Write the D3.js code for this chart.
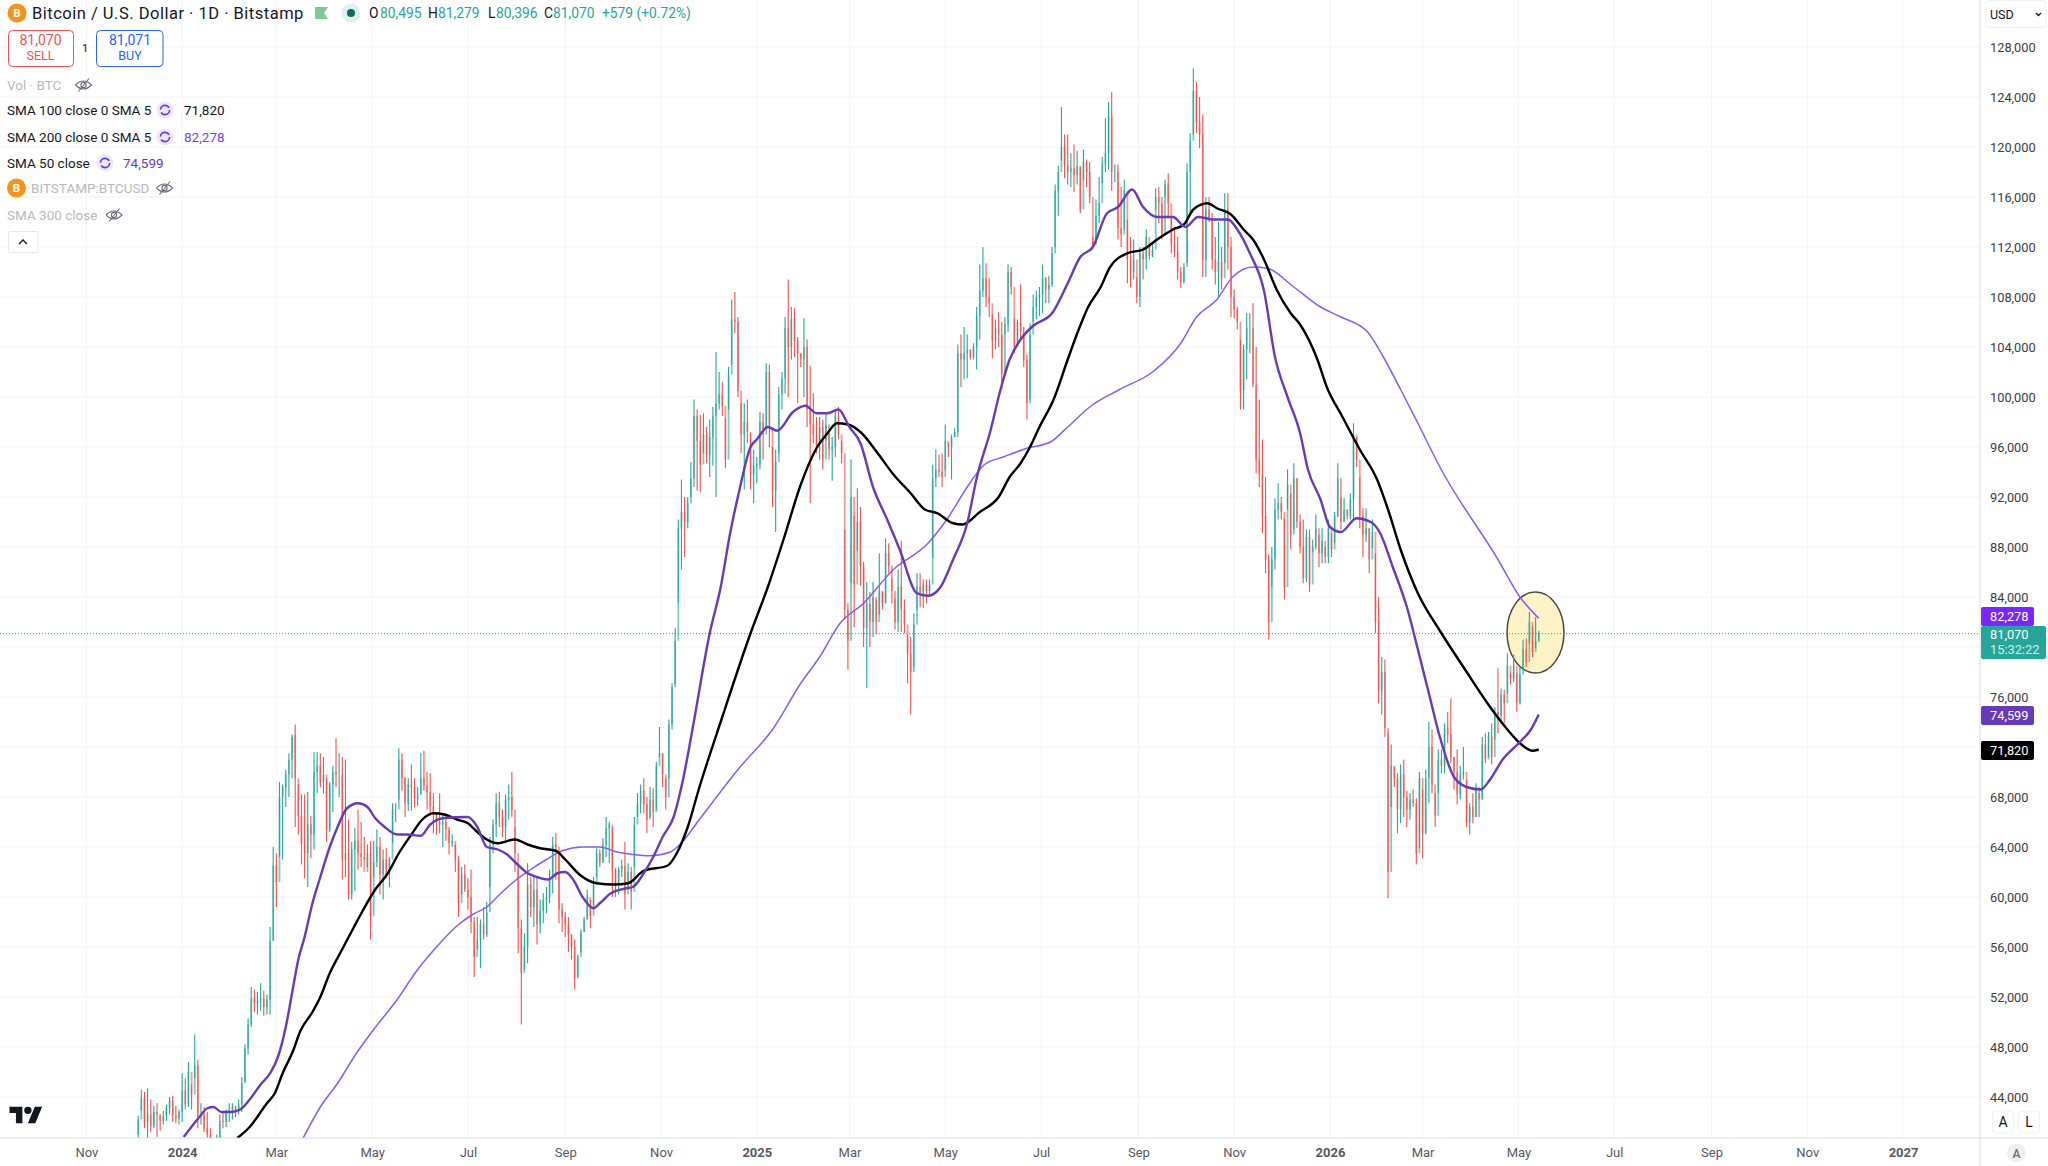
<!DOCTYPE html>
<html>
<head>
<meta charset="utf-8">
<script src="https://cdn.jsdelivr.net/npm/d3@7"></script>
<style>
  html, body { margin: 0; padding: 0; background: #fff; }
  svg { display: block; }
  text { font-family: Roboto, sans-serif; }
</style>
</head>
<body>
<div id="chart"></div>
<script>
//Prices are in thousand USD, one candle per two days, one row per 30 days
var candleHigh = [
  42.5,44.6,44.4,44.7,43.8,43.3,43.5,42.6,42.9,43.4,44.0,44.1,43.3,43.0,45.9,
  45.5,46.8,45.0,49.0,47.0,43.5,43.2,42.8,41.5,40.6,41.0,42.6,42.8,43.0,43.5,
  43.5,43.3,43.8,45.6,48.2,50.3,52.8,52.6,52.4,53.1,52.5,52.2,57.6,64.0,63.5,
  69.2,69.0,70.2,71.5,72.8,73.8,69.0,68.2,68.2,68.4,66.5,71.6,71.6,71.5,71.2,
  69.5,69.2,70.5,72.7,71.5,71.2,71.0,66.2,64.4,65.5,67.0,66.0,64.8,64.2,64.5,
  64.5,65.4,64.8,63.8,63.9,63.2,67.5,67.5,71.9,71.5,69.6,69.5,70.6,69.5,68.8,
  71.5,71.7,70.0,69.9,68.3,66.7,68.3,66.7,66.7,65.6,65.0,64.2,63.3,62.4,62.6,
  61.5,62.2,58.4,58.4,58.2,59.2,59.6,64.8,66.2,68.3,68.4,67.0,68.2,69.0,70.0,
  65.6,62.7,58.2,57.1,62.7,61.6,61.6,61.6,59.8,60.3,60.8,62.2,64.8,65.1,63.5,
  59.5,58.8,58.4,57.0,56.6,55.4,57.4,58.4,60.6,59.8,61.6,63.9,63.8,64.7,66.4,
  66.0,65.6,62.3,62.4,63.0,64.4,62.7,62.4,66.4,68.3,69.0,69.5,68.0,68.8,68.7,
  70.8,73.6,71.5,69.5,74.2,77.1,81.5,90.2,93.4,92.0,92.0,94.8,99.8,99.0,98.6,
  98.7,97.6,98.2,99.2,103.6,102.0,101.2,98.3,102.4,107.8,108.4,106.4,99.5,99.5,99.8,
  97.1,95.8,95.2,98.8,98.7,102.7,102.6,96.0,95.8,100.8,102.0,106.4,109.4,107.2,107.1,
  104.8,103.5,106.3,104.6,102.5,100.3,98.4,98.4,98.2,98.7,97.1,96.8,99.0,99.2,96.5,
  89.4,83.5,95.0,90.5,92.7,91.2,86.8,85.2,84.4,85.2,83.8,87.5,84.4,88.7,88.3,
  85.5,83.9,86.2,88.5,83.8,81.0,80.8,82.7,85.9,85.9,85.4,85.4,85.4,94.6,95.8,
  95.4,95.5,97.8,96.3,97.0,97.5,104.2,105.0,105.6,105.0,103.8,104.3,107.2,110.6,112.0,
  110.7,109.5,106.6,106.2,106.8,106.0,106.4,110.6,110.4,106.3,106.2,109.0,105.6,103.4,105.9,
  108.2,108.5,108.8,110.6,109.6,109.7,112.0,117.0,118.5,123.2,121.0,121.0,119.5,120.2,119.7,
  118.4,119.8,119.0,118.8,112.8,115.8,117.6,119.2,122.3,123.6,124.4,118.6,118.6,116.8,117.4,
  114.2,112.8,112.6,109.6,112.0,112.0,113.4,112.0,112.3,116.7,116.8,116.0,117.4,117.9,114.4,
  113.6,112.8,110.4,110.7,118.7,121.1,126.3,125.2,124.0,122.6,116.0,116.0,114.7,112.8,114.0,
  112.0,116.3,116.3,112.8,108.6,107.2,104.6,104.2,106.7,106.7,107.5,104.0,99.8,96.6,93.6,
  87.4,88.0,91.9,93.1,92.0,90.3,94.2,92.3,94.7,93.5,90.6,90.2,89.4,89.4,88.6,
  90.6,89.0,89.5,88.0,90.2,89.1,90.8,94.7,92.0,91.9,91.0,92.3,97.9,96.8,93.6,
  91.1,91.1,89.5,90.2,87.5,84.0,79.2,79.0,73.1,72.2,70.4,69.9,70.6,71.0,68.5,
  68.3,68.6,67.9,70.0,68.6,70.2,74.0,73.4,68.3,71.8,71.8,73.9,74.8,75.9,71.2,
  71.8,70.5,72.0,69.4,67.5,68.3,69.1,68.3,72.8,73.1,73.2,73.9,75.2,78.3,76.7,
  76.6,79.5,77.9,79.4,77.9,78.4,80.6,80.7,82.8,81.6,82.4,81.3
];
var candleLow = [
  40.6,42.9,41.5,40.4,41.2,41.5,40.8,41.3,41.8,42.1,42.6,42.0,41.9,41.8,42.0,
  43.0,43.2,43.0,45.5,41.5,41.8,41.2,40.5,39.5,38.6,39.6,39.8,41.5,41.6,42.0,
  42.2,42.4,42.6,42.8,45.2,47.4,49.6,50.8,50.6,50.9,50.5,50.6,50.6,56.5,59.2,
  63.2,63.0,67.2,68.0,69.5,65.6,65.0,62.6,61.5,60.8,63.1,63.8,68.3,68.8,68.3,
  64.4,65.2,66.8,68.8,68.0,61.4,61.6,59.8,59.8,60.5,62.2,62.4,63.0,62.4,56.6,
  61.6,62.4,60.2,59.8,61.5,60.8,64.3,66.0,67.8,68.5,66.4,66.9,66.9,67.2,67.3,
  68.2,68.5,67.0,66.5,65.1,65.0,65.1,64.0,64.5,63.4,64.0,62.0,58.4,60.2,60.4,
  59.0,57.1,53.6,55.8,54.3,56.6,56.8,60.8,63.5,64.8,65.6,64.8,64.3,66.2,66.4,
  62.0,55.5,49.8,54.2,54.7,58.4,57.6,56.2,57.1,57.9,58.7,59.5,60.3,61.4,57.9,
  57.2,56.8,55.6,55.0,52.6,53.6,55.6,57.2,58.2,57.5,59.2,61.6,62.4,62.7,63.2,
  62.7,60.0,60.0,60.2,61.6,59.0,60.6,59.0,62.4,66.4,66.7,66.7,65.1,66.4,65.6,
  67.0,71.2,68.8,67.0,69.5,73.4,77.0,83.5,86.2,87.2,89.5,92.0,92.8,92.5,92.4,
  95.5,94.7,93.6,94.5,92.0,99.0,98.5,94.3,99.0,102.6,105.1,100.0,95.5,92.6,96.3,
  92.6,91.5,93.1,94.2,95.0,97.6,96.0,91.2,89.2,95.5,99.0,100.3,100.0,103.0,103.2,
  99.5,102.4,100.0,97.6,91.5,96.3,95.5,95.0,94.2,96.5,95.0,93.3,95.2,96.6,94.7,
  82.2,78.2,85.1,81.6,87.7,84.9,80.0,76.7,80.0,80.8,81.0,82.6,83.0,83.5,85.9,
  83.5,81.4,81.2,81.2,81.1,77.1,74.6,78.4,83.0,83.2,83.1,83.5,84.0,87.1,92.8,
  93.6,92.8,94.2,95.2,93.4,96.8,96.8,100.8,101.4,101.5,103.0,103.0,102.2,104.6,108.0,
  107.2,106.4,103.1,103.8,104.0,100.6,105.0,105.2,108.2,103.5,104.3,104.6,102.4,98.2,99.8,
  106.0,106.2,106.5,106.7,107.5,107.5,108.8,112.0,114.5,118.9,117.5,117.0,116.8,116.4,117.0,
  114.7,117.4,116.8,115.5,111.8,112.3,113.9,117.1,118.0,118.2,116.5,117.2,112.6,112.0,113.4,
  109.1,108.8,109.4,107.5,107.2,109.4,110.2,111.0,111.2,115.0,113.9,112.6,116.0,114.4,111.5,
  111.2,109.4,108.7,109.1,110.7,114.7,121.0,121.1,119.9,109.6,109.6,114.0,110.2,109.0,108.0,
  108.6,110.7,110.2,106.4,106.3,105.4,99.0,99.0,101.4,103.5,100.8,93.9,92.8,89.1,85.9,
  80.6,84.8,86.2,90.2,90.2,83.8,91.0,87.8,89.4,89.5,87.5,85.1,85.2,84.4,87.6,
  87.8,86.4,86.7,86.7,86.7,87.2,88.3,90.4,89.4,90.0,90.2,90.2,90.2,94.4,89.5,
  87.2,88.4,85.9,87.9,81.1,75.5,74.6,72.8,59.9,67.2,68.8,65.1,65.9,66.4,65.6,
  66.2,67.2,62.6,63.9,63.1,65.1,67.5,68.3,65.6,68.3,69.9,69.9,72.3,70.7,68.6,
  67.4,67.8,69.4,65.6,65.0,65.9,66.4,66.4,67.8,70.7,71.2,70.6,72.6,73.1,73.9,
  73.9,76.3,77.0,77.2,74.8,75.4,78.2,78.4,80.3,79.2,79.9,80.4
];
var candleClose = [
  42.2,43.9,42.0,42.6,41.7,42.8,42.6,42.1,42.5,43.1,43.7,42.5,42.3,42.8,44.5,
  43.4,46.0,44.2,46.5,42.5,42.6,41.5,41.0,39.8,39.9,40.5,42.1,42.0,42.9,43.0,
  43.2,42.8,43.4,45.1,47.9,49.8,51.9,51.5,51.7,51.9,51.2,51.8,56.5,62.5,61.2,
  68.0,68.8,69.8,71.0,73.0,69.5,66.5,64.2,63.5,65.8,65.0,70.0,70.5,69.2,69.8,
  65.4,69.0,70.0,69.8,69.8,63.0,63.5,60.2,63.8,64.5,63.5,63.2,62.0,63.5,58.5,
  62.8,64.0,61.8,63.0,61.8,63.0,67.0,67.0,71.0,69.5,67.5,69.0,68.8,67.9,68.2,
  69.5,68.9,68.4,67.2,66.8,66.0,65.8,66.0,65.4,64.3,64.5,63.0,59.5,61.8,60.6,
  60.0,58.0,55.2,56.6,57.8,57.0,58.8,64.2,65.8,67.5,66.4,65.6,67.8,68.0,67.0,
  63.5,57.5,53.9,56.0,61.0,59.2,60.6,57.8,58.9,59.8,60.0,61.6,64.2,64.0,59.0,
  58.4,57.8,57.0,56.0,53.5,55.2,57.2,58.2,60.0,58.5,61.0,63.5,62.8,64.2,65.5,
  65.8,62.2,61.0,62.2,62.5,60.2,62.0,60.4,65.8,67.5,68.5,67.4,66.2,67.8,66.8,
  70.5,71.5,69.8,68.0,73.8,76.8,80.5,89.5,90.8,90.0,91.5,93.5,98.5,96.5,94.6,
  97.0,95.4,96.8,98.5,99.5,100.2,99.3,95.0,101.8,106.2,106.0,100.5,97.0,98.0,97.2,
  93.8,94.5,94.6,98.0,97.0,102.0,97.5,92.5,94.8,100.2,101.5,105.5,104.0,106.2,104.5,
  103.5,103.0,104.0,99.0,97.8,97.0,96.2,97.6,95.0,97.8,95.8,96.0,98.5,97.0,95.5,
  83.0,80.5,92.0,85.0,90.0,86.5,81.5,83.5,82.0,84.0,82.0,84.5,83.5,87.5,86.5,
  84.5,82.0,84.8,83.0,81.8,79.5,78.0,81.8,84.8,84.2,85.0,84.5,85.0,93.5,94.2,
  94.0,93.6,96.5,96.0,96.8,97.2,103.5,103.0,103.5,103.8,103.2,104.0,106.5,108.5,109.5,
  108.0,107.5,104.5,105.5,105.0,101.8,105.8,110.0,108.8,104.0,106.0,105.2,103.0,99.5,105.0,
  107.2,108.0,108.2,109.5,108.6,109.0,111.5,116.5,118.0,120.0,118.5,118.0,118.3,117.8,118.5,
  115.0,118.8,118.0,116.0,112.2,114.5,115.5,118.6,119.5,122.5,118.0,118.0,113.5,113.0,116.5,
  111.0,110.0,111.0,108.0,111.5,111.0,112.8,111.3,111.8,116.0,115.5,113.0,117.0,115.5,112.2,
  111.6,110.0,109.2,110.4,118.0,120.5,124.5,122.0,121.0,111.0,115.0,114.2,111.0,110.0,110.8,
  109.5,115.0,112.0,108.0,107.0,106.0,100.5,103.8,105.5,105.5,101.0,95.0,93.8,90.5,87.0,
  82.0,87.0,91.0,91.5,90.8,84.8,93.0,89.0,93.5,90.0,88.0,85.5,88.8,85.0,88.0,
  89.5,87.5,88.5,87.2,89.5,87.8,90.5,93.5,90.0,91.0,90.5,91.8,97.0,95.0,90.5,
  89.0,89.5,87.0,89.2,82.0,76.5,78.0,73.5,62.0,70.5,69.5,67.0,69.8,68.0,67.0,
  67.8,67.5,63.5,69.5,65.0,69.5,72.0,69.0,66.5,71.0,70.5,73.5,73.0,71.2,70.0,
  68.2,69.8,70.0,66.0,67.2,66.4,68.8,67.8,72.2,71.0,72.9,71.2,74.8,74.5,76.2,
  75.5,78.5,77.5,78.5,75.5,77.8,79.8,78.8,82.0,79.6,80.5,81.07
];

//Moving averages, days counted from 1 Jan 2024
var sma50Days = [1,11,16,20,25,31,37,43,50,56,61,66,70,74,78,83,88,94,99,105,112,118,123,129,137,143,152,158,166,182,188,194,201,207,212,220,226,233,239,244,249,255,262,266,273,283,287,294,300,306,313,319,325,336,343,349,355,362,366,373,379,389,397,404,411,418,425,432,440,449,457,468,475,483,491,500,506,515,521,527,534,542,554,564,572,580,589,596,605,612,621,631,639,647,657,666,672,680,689,696,704,712,717,725,731,738,748,757,763,771,780,787,794,801,810,818,827,833,841,852,859,864];
var sma50Values = [40.8,42.4,43.1,43.2,42.8,42.8,43.0,43.8,45.0,45.9,47.2,49.6,52.3,55.0,56.8,59.5,61.6,64.0,65.6,67.1,67.5,67.2,66.3,65.6,65.0,65.0,64.9,65.8,66.3,66.4,65.6,64.0,63.8,63.4,62.8,61.9,61.6,61.4,61.9,62.0,61.4,60.0,59.1,59.5,60.3,60.7,60.8,61.9,63.2,64.8,66.4,69.4,73.4,81.1,84.8,89.1,92.6,96.0,96.6,97.6,97.3,98.8,99.3,98.7,98.7,99.0,97.6,96.3,92.8,90.2,87.8,84.3,84.1,84.8,87.0,89.9,93.5,97.4,100.5,103.0,104.6,105.7,106.7,109.1,111.2,112.0,114.7,115.2,116.6,115.2,114.4,114.4,113.6,114.4,114.2,114.2,113.4,111.5,108.5,103.2,100.0,97.1,94.2,91.8,89.6,89.2,90.3,90.0,89.1,86.4,83.2,79.8,76.3,72.8,69.6,68.8,68.6,69.4,71.0,72.4,73.4,74.6];

var sma100Days = [35,43,54,59,64,71,75,83,88,94,101,109,115,123,131,138,146,153,160,167,175,182,188,194,201,212,220,228,238,244,253,264,275,284,294,309,315,322,329,344,362,373,383,394,404,411,417,424,432,443,453,464,473,481,491,497,508,520,527,534,540,546,555,564,571,577,585,591,602,612,621,631,638,644,653,659,668,676,682,689,697,706,712,723,729,739,750,761,768,776,787,801,816,833,844,852,860,864];
var sma100Values = [40.7,41.6,43.5,44.3,45.9,47.8,49.2,50.8,52.0,53.9,55.6,57.5,58.9,60.6,61.9,63.5,65.0,66.2,66.7,66.6,66.2,65.9,65.2,64.6,64.3,64.6,64.2,63.9,63.7,63.0,61.8,61.1,61.0,61.1,62.1,62.5,63.5,65.6,68.6,74.4,81.1,84.8,88.6,93.0,95.9,97.1,97.9,97.8,97.2,95.5,93.8,92.3,91.0,90.7,89.9,89.8,90.8,92.0,93.6,94.7,96.0,97.6,99.8,103.0,105.4,107.2,108.8,110.4,111.5,111.8,112.6,113.4,113.8,115.0,115.5,115.1,114.6,113.4,112.6,111.0,108.6,106.7,105.8,103.0,100.8,98.4,95.8,93.4,91.0,87.8,84.3,81.3,78.4,75.2,73.4,72.3,71.7,71.8];

var sma200Days = [77,88,99,111,122,137,150,162,176,185,194,203,213,222,232,242,255,266,277,287,298,311,317,330,354,376,394,406,419,434,453,475,487,500,511,523,538,553,564,578,597,618,636,646,659,669,682,691,708,725,738,755,765,776,787,801,838,852,864];
var sma200Values = [40.7,43.2,45.1,47.5,49.4,51.8,54.2,56.0,57.8,58.6,59.2,60.3,61.4,62.2,63.0,63.7,64.0,64.0,63.6,63.4,63.3,63.6,64.2,66.3,70.2,73.4,77.1,79.2,81.9,83.5,86.2,88.3,90.2,92.8,94.6,95.2,95.9,96.4,97.6,99.2,100.6,102.0,104.3,106.4,107.8,109.6,110.4,110.3,108.8,107.2,106.4,105.2,103.2,100.6,97.9,94.4,87.0,84.0,82.3];

var priceTicks = [44,48,52,56,60,64,68,72,76,80,84,88,92,96,100,104,108,112,116,120,124,128];
var hiddenTickLabels = [72,80]; //covered by the last value labels
var lastClose = 81.07;

var w = 2048, h = 1166;
var paneW = 1980, paneH = 1138;
var upColor = "#26a69a", downColor = "#ef5350";
var fmtPrice = function(d){ return d3.format(",")(Math.round(d*1000)); };

var svg = d3.select("#chart").append("svg").attr("width", w).attr("height", h);

var x = d3.scaleUtc()
  .domain([new Date(Date.UTC(2023,8,7)), new Date(Date.UTC(2027,1,19))])
  .range([0, paneW]);
var y = d3.scaleLinear().domain([131.76, 40.72]).range([0, paneH]);

var jan2024 = new Date(Date.UTC(2024,0,1));
var dayX = function(d){ return x(d3.utcDay.offset(jan2024, d)); };

//Two-monthly ticks on the time axis
var timeTicks = d3.utcMonth.range(new Date(Date.UTC(2023,10,1)), new Date(Date.UTC(2027,1,1)), 2);

//Grid
svg.append("g").selectAll("line").data(priceTicks).enter().append("line")
  .attr("x1", 0).attr("x2", paneW)
  .attr("y1", function(d){ return y(d); }).attr("y2", function(d){ return y(d); })
  .attr("stroke", "#f2f3f5");
svg.append("g").selectAll("line").data(timeTicks).enter().append("line")
  .attr("x1", function(d){ return x(d); }).attr("x2", function(d){ return x(d); })
  .attr("y1", 0).attr("y2", paneH)
  .attr("stroke", "#f2f3f5");

var clip = svg.append("defs").append("clipPath").attr("id", "pane");
clip.append("rect").attr("width", paneW).attr("height", paneH);
var pane = svg.append("g").attr("clip-path", "url(#pane)");

//Circle marking the latest candles
pane.append("ellipse")
  .attr("cx", 1535.5).attr("cy", 632.5).attr("rx", 28.5).attr("ry", 40.5)
  .attr("fill", "#fdf3c6").attr("stroke", "#4a4a3a").attr("stroke-width", 1.5);

//Last price line
pane.append("line")
  .attr("x1", 0).attr("x2", paneW)
  .attr("y1", y(lastClose)).attr("y2", y(lastClose))
  .attr("stroke", upColor).attr("stroke-dasharray", "1 2");

//Candles
var candles = candleClose.map(function(c, i){
  return {
    day: -28 + i*2,
    high: candleHigh[i],
    low: candleLow[i],
    open: i == 0 ? 41.0 : candleClose[i-1],
    close: c
  };
});
var candleG = pane.selectAll("g.candle").data(candles).enter().append("g").attr("class", "candle");
candleG.append("line")
  .attr("x1", function(d){ return dayX(d.day); })
  .attr("x2", function(d){ return dayX(d.day); })
  .attr("y1", function(d){ return y(d.high); })
  .attr("y2", function(d){ return y(d.low); })
  .attr("stroke-width", 1.1)
  .attr("stroke", function(d){ return d.close >= d.open ? upColor : downColor; });
candleG.append("rect")
  .attr("x", function(d){ return dayX(d.day) - 0.9; })
  .attr("width", 1.8)
  .attr("y", function(d){ return y(Math.max(d.open, d.close)); })
  .attr("height", function(d){ return Math.abs(y(d.open) - y(d.close)); })
  .attr("opacity", 0.6)
  .attr("fill", function(d){ return d.close >= d.open ? upColor : downColor; });

//Moving averages
var line = d3.line()
  .x(function(d){ return dayX(d[0]); })
  .y(function(d){ return y(d[1]); })
  .curve(d3.curveMonotoneX);
var drawSma = function(days, values, color, width){
  pane.append("path")
    .datum(days.map(function(d, i){ return [d, values[i]]; }))
    .attr("fill", "none")
    .attr("stroke", color)
    .attr("stroke-width", width)
    .attr("stroke-linejoin", "round")
    .attr("d", line);
};
drawSma(sma200Days, sma200Values, "#8a5cf0", 1.5);
drawSma(sma100Days, sma100Values, "#000000", 2.4);
drawSma(sma50Days, sma50Values, "#673ab7", 2.4);

//Price axis
var yAxis = d3.axisRight(y)
  .tickValues(priceTicks.filter(function(d){ return hiddenTickLabels.indexOf(d) < 0; }))
  .tickSize(0).tickPadding(10).tickFormat(fmtPrice);
var yG = svg.append("g").attr("transform", "translate(" + paneW + ",0)").call(yAxis);
yG.select(".domain").remove();
yG.selectAll("text").attr("font-size", 12.8).attr("fill", "#3a3d45").style("font-family", "Roboto, sans-serif");

//Time axis
var xAxis = d3.axisBottom(x).tickValues(timeTicks).tickSize(0).tickPadding(10)
  .tickFormat(function(d){ return d.getUTCMonth() == 0 ? d.getUTCFullYear() : d3.utcFormat("%b")(d); });
var xG = svg.append("g").attr("transform", "translate(0," + paneH + ")").call(xAxis);
xG.select(".domain").remove();
xG.selectAll("text")
  .attr("font-size", 13).attr("fill", "#555962").style("font-family", "Roboto, sans-serif")
  .attr("font-weight", function(d){ return d.getUTCMonth() == 0 ? 700 : 400; });

svg.append("line").attr("x1", paneW).attr("x2", paneW).attr("y1", 0).attr("y2", h).attr("stroke", "#dcdde0");
svg.append("line").attr("x1", 0).attr("x2", w).attr("y1", paneH).attr("y2", paneH).attr("stroke", "#dcdde0");

//Price labels on the axis
var priceLabels = [
  {value: 82.278, top: 607, bottom: 626, right: 2034, fill: "#7a26ff"},
  {value: 74.599, top: 706, bottom: 725, right: 2034, fill: "#673ab7"},
  {value: 71.82, top: 741, bottom: 760, right: 2034, fill: "#000000"}
];
priceLabels.forEach(function(d){
  svg.append("rect").attr("x", 1981).attr("y", d.top).attr("width", d.right - 1981).attr("height", d.bottom - d.top)
    .attr("rx", 2).attr("fill", d.fill);
  svg.append("text").attr("x", 1990).attr("y", d.top + 14).attr("font-size", 12.8).attr("fill", "#fff").text(fmtPrice(d.value));
});
svg.append("rect").attr("x", 1981).attr("y", 626).attr("width", 65).attr("height", 33).attr("rx", 2).attr("fill", upColor);
svg.append("text").attr("x", 1990).attr("y", 639).attr("font-size", 12.8).attr("fill", "#fff").text(fmtPrice(lastClose));
svg.append("text").attr("x", 1990).attr("y", 654).attr("font-size", 12.8).attr("fill", "#d6f0ec").text("15:32:22");

//Top right currency box and bottom right buttons
svg.append("rect").attr("x", 1986).attr("y", 0.5).attr("width", 60).attr("height", 27).attr("rx", 4).attr("fill", "#fff").attr("stroke", "#f0f0f2");
svg.append("text").attr("x", 1990).attr("y", 19).attr("font-size", 12.5).attr("fill", "#131722").text("USD");
svg.append("path").attr("d", "M2036 13l2.5 2.5 2.5-2.5").attr("fill", "none").attr("stroke", "#131722").attr("stroke-width", 1.3);
[["A", 2003], ["L", 2029]].forEach(function(b){
  svg.append("rect").attr("x", b[1] - 10.5).attr("y", 1111).attr("width", 21).attr("height", 22).attr("rx", 4).attr("fill", "#fff").attr("stroke", "#f0f0f2");
  svg.append("text").attr("x", b[1]).attr("y", 1127).attr("text-anchor", "middle").attr("font-size", 14).attr("fill", "#131722").text(b[0]);
});
svg.append("circle").attr("cx", 2016.5).attr("cy", 1153).attr("r", 9.5).attr("fill", "#eeeff1");
svg.append("text").attr("x", 2016.5).attr("y", 1157.5).attr("text-anchor", "middle").attr("font-size", 12).attr("font-weight", 500).attr("fill", "#6a6d78").text("A");

//TradingView mark
var logo = svg.append("g").attr("transform", "translate(9.5,1103) scale(0.92)").attr("fill", "#131722");
logo.append("path").attr("d", "M14 22H7V11H0V4h14v18zM28 22h-8l7.5-18h8L28 22z");
logo.append("circle").attr("cx", 20).attr("cy", 8).attr("r", 4);

//Legend
var coin = function(cx, cy){
  svg.append("circle").attr("cx", cx).attr("cy", cy).attr("r", 9.5).attr("fill", "#f7931a");
  svg.append("text").attr("x", cx).attr("y", cy + 4).attr("text-anchor", "middle").attr("font-size", 11.5).attr("font-weight", 700).attr("fill", "#fff").text("B");
};
var eyeOff = function(cx, cy){
  var g = svg.append("g").attr("fill", "none").attr("stroke", "#6a6d78").attr("stroke-width", 1.1);
  g.append("path").attr("d", "M" + (cx-8) + " " + cy + "Q" + cx + " " + (cy-8) + " " + (cx+8) + " " + cy + "Q" + cx + " " + (cy+8) + " " + (cx-8) + " " + cy);
  g.append("circle").attr("cx", cx).attr("cy", cy).attr("r", 2.6);
  g.append("line").attr("x1", cx-5).attr("y1", cy+6.5).attr("x2", cx+5.5).attr("y2", cy-6.5);
};
var syncIcon = function(cx, cy){
  svg.append("circle").attr("cx", cx).attr("cy", cy).attr("r", 8.5).attr("fill", "#ede7f6");
  svg.append("circle").attr("cx", cx).attr("cy", cy).attr("r", 4.6).attr("fill", "none")
    .attr("stroke", "#6a3de8").attr("stroke-width", 1.7).attr("stroke-dasharray", "11.5 3");
};
var label = function(tx, ty, str, size, color){
  return svg.append("text").attr("x", tx).attr("y", ty).attr("font-size", size).attr("fill", color).text(str);
};

coin(17, 13);
label(32, 18.5, "Bitcoin / U.S. Dollar · 1D · Bitstamp", 16.5, "#131722").attr("letter-spacing", 0.5);
svg.append("path").attr("d", "M315 7h13l-4 6 4 6h-13z").attr("fill", "#81c995");
svg.append("circle").attr("cx", 351).attr("cy", 13).attr("r", 9.5).attr("fill", "#dff1ee");
svg.append("circle").attr("cx", 351).attr("cy", 13).attr("r", 4).attr("fill", "#0b6b5d");

[["O", 369, "80,495", 380], ["H", 428, "81,279", 438], ["L", 488, "80,396", 496], ["C", 544, "81,070", 553]].forEach(function(o){
  label(o[1], 18, o[0], 13.8, "#131722");
  label(o[3], 18, o[2], 13.8, upColor);
});
label(602, 18, "+579 (+0.72%)", 13.8, upColor);

svg.append("rect").attr("x", 8.5).attr("y", 30.5).attr("width", 65).attr("height", 36).attr("rx", 4).attr("fill", "#fff").attr("stroke", downColor);
svg.append("text").attr("x", 40.5).attr("y", 45).attr("text-anchor", "middle").attr("font-size", 14).attr("fill", downColor).text("81,070");
svg.append("text").attr("x", 40.5).attr("y", 60).attr("text-anchor", "middle").attr("font-size", 12.5).attr("fill", downColor).text("SELL");
svg.append("text").attr("x", 85).attr("y", 52).attr("text-anchor", "middle").attr("font-size", 11).attr("fill", "#131722").text("1");
svg.append("rect").attr("x", 96.5).attr("y", 30.5).attr("width", 66.5).attr("height", 36).attr("rx", 4).attr("fill", "#fff").attr("stroke", "#2962ff");
svg.append("text").attr("x", 130).attr("y", 45).attr("text-anchor", "middle").attr("font-size", 14).attr("fill", "#2962ff").text("81,071");
svg.append("text").attr("x", 130).attr("y", 60).attr("text-anchor", "middle").attr("font-size", 12.5).attr("fill", "#2962ff").text("BUY");

label(7, 89.5, "Vol · BTC", 13.5, "#b8bac0");
eyeOff(83.5, 85);
label(7, 115, "SMA 100 close 0 SMA 5", 13.5, "#131722");
syncIcon(165, 110);
label(184, 115, "71,820", 13.5, "#131722");
label(7, 141.5, "SMA 200 close 0 SMA 5", 13.5, "#131722");
syncIcon(165, 137);
label(184, 141.5, "82,278", 13.5, "#7a3ff2");
label(7, 167.5, "SMA 50 close", 13.5, "#131722");
syncIcon(105, 163);
label(123, 167.5, "74,599", 13.5, "#673ab7");
coin(16.5, 188);
label(31, 193, "BITSTAMP:BTCUSD", 13.5, "#b8bac0");
eyeOff(164.5, 188);
label(7, 219.5, "SMA 300 close", 13.5, "#b8bac0");
eyeOff(114, 215);
svg.append("rect").attr("x", 8.5).attr("y", 231.5).attr("width", 29.5).attr("height", 21).attr("rx", 2).attr("fill", "#fff").attr("stroke", "#e6e7ea");
svg.append("path").attr("d", "M19 244l4-4 4 4").attr("fill", "none").attr("stroke", "#131722").attr("stroke-width", 1.3);
</script>
</body>
</html>
